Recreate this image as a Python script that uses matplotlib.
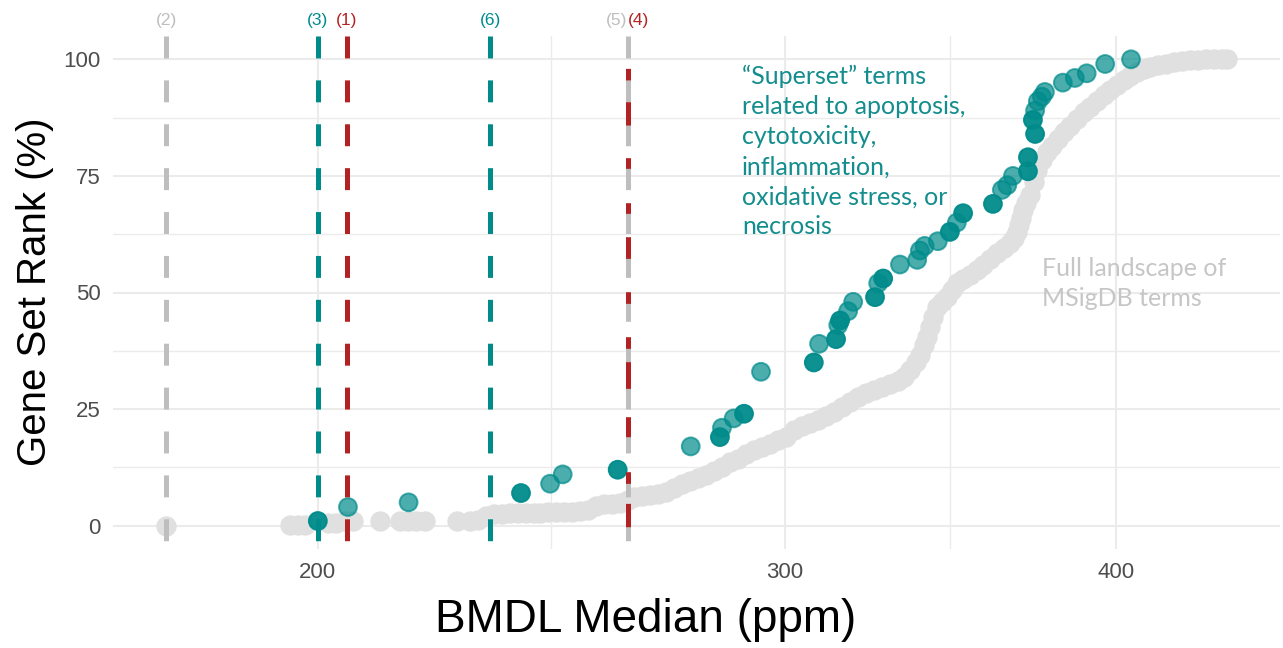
import matplotlib
matplotlib.use("Agg")
import matplotlib.pyplot as plt
from matplotlib.ticker import FixedLocator, NullFormatter, FixedFormatter
import matplotlib.transforms as mtransforms

plt.rcParams["lines.scale_dashes"] = False

# full MSigDB landscape: BMDL median (ppm) vs gene set rank (%)
landscape_bmdl = [175.3, 195.2, 196.6, 197.8, 201.7, 203.2, 204.8, 206.2, 211.1, 214.8,
                  216.3, 217.8, 219.5, 225.7, 228.2, 229.8, 231.4, 233.0, 234.7, 236.3,
                  238.0, 239.6, 241.3, 242.5, 244.2, 245.9, 247.7, 249.4, 251.1, 252.9,
                  254.6, 256.4, 258.2, 260.0, 261.8, 263.2, 265.0, 266.9, 268.7, 270.6,
                  272.5, 274.4, 276.3, 278.2, 280.2, 282.1, 284.1, 286.1, 288.1, 290.1,
                  292.1, 294.1, 296.2, 298.2, 300.3, 302.4, 304.5, 306.6, 308.8, 310.9,
                  313.1, 315.3, 317.5, 319.7, 321.9, 324.2, 326.4, 328.7, 331.0, 332.7,
                  334.5, 336.2, 337.4, 338.6, 339.4, 340.3, 341.2, 342.4, 343.9, 345.4,
                  346.9, 348.4, 350.2, 352.4, 354.5, 356.4, 358.5, 360.7, 362.9, 364.8,
                  366.1, 367.0, 367.7, 368.3, 369.0, 369.9, 371.2, 372.5, 373.5, 375.1,
                  376.7, 378.4, 380.4, 382.3, 384.3, 386.7, 389.0, 391.1, 393.5, 395.9,
                  397.9, 400.4, 402.8, 404.9, 407.4, 409.9, 412.0, 414.9, 417.8, 420.7,
                  423.6, 426.6, 429.5, 432.5, 435.5, 438.6, 440.5]
landscape_rank = [0.0, 0.2, 0.2, 0.2, 0.6, 0.6, 0.9, 0.9, 0.9, 0.9,
                  0.9, 0.9, 0.9, 0.9, 1.1, 1.3, 2.1, 2.6, 2.6, 2.8,
                  2.8, 2.8, 2.8, 2.8, 3.0, 3.0, 3.0, 3.0, 3.2, 3.4,
                  4.3, 4.7, 4.7, 4.9, 5.6, 6.2, 6.4, 6.6, 6.9, 7.3,
                  8.1, 9.0, 9.6, 10.3, 10.9, 11.8, 12.6, 13.7, 14.4, 15.4,
                  16.3, 16.9, 17.6, 18.4, 19.1, 20.6, 21.4, 22.1, 22.7, 23.6,
                  24.4, 25.5, 26.6, 27.6, 28.5, 29.1, 29.8, 30.4, 31.1, 31.9,
                  33.4, 35.1, 36.6, 38.8, 40.5, 42.6, 44.8, 46.9, 48.0, 49.0,
                  50.5, 52.0, 52.9, 53.8, 54.8, 55.9, 57.2, 58.5, 59.5, 60.6,
                  61.7, 63.0, 64.5, 66.0, 67.7, 69.2, 70.9, 73.7, 76.2, 78.4,
                  80.1, 81.4, 82.9, 84.4, 85.7, 87.2, 88.7, 89.7, 91.0, 92.3,
                  93.4, 94.4, 95.5, 96.4, 97.2, 97.9, 98.3, 98.7, 99.1, 99.4,
                  99.6, 99.8, 99.8, 100.0, 100.0, 100.0, 100.0]

# superset terms (apoptosis, cytotoxicity, inflammation, oxidative stress, necrosis)
superset_bmdl = [200.0, 205.3, 216.4, 238.6, 244.7, 247.4, 259.5, 276.5, 283.6, 284.1,
                 287.0, 289.6, 293.9, 307.7, 309.1, 313.7, 314.3, 314.8, 317.0, 318.4,
                 324.5, 325.4, 326.8, 331.6, 336.6, 337.4, 338.8, 342.7, 346.3, 348.4,
                 350.3, 359.5, 362.3, 364.0, 365.8, 370.6, 370.6, 372.9, 372.2, 372.9,
                 373.8, 375.1, 376.1, 382.0, 386.0, 390.0, 396.3, 405.3]
superset_rank = [1, 4, 5, 7, 9, 11, 12, 17, 19, 21,
                 23, 24, 33, 35, 39, 40, 43, 44, 46, 48,
                 49, 52, 53, 56, 57, 59, 60, 61, 63, 65,
                 67, 69, 72, 73, 75, 76, 79, 84, 87, 89,
                 91, 92, 93, 95, 96, 97, 99, 100]
superset_alpha = [0.95, 0.7, 0.7, 0.95, 0.7, 0.7, 0.95, 0.7, 0.95, 0.7,
                  0.7, 0.95, 0.7, 0.95, 0.7, 0.95, 0.7, 0.95, 0.7, 0.7,
                  0.95, 0.7, 0.95, 0.7, 0.7, 0.7, 0.7, 0.7, 0.95, 0.7,
                  0.95, 0.95, 0.7, 0.7, 0.7, 0.95, 0.95, 0.95, 0.95, 0.7,
                  0.7, 0.7, 0.7, 0.7, 0.7, 0.7, 0.7, 0.7]

# reference BMDL values drawn as dashed lines
ref_labels = ["(1)", "(2)", "(3)", "(4)", "(5)", "(6)"]
ref_bmdl = [205.1, 175.3, 200.0, 261.8, 261.8, 232.3]

TEAL = "#008B8B"
RED = "#B22222"
GREY = "#BEBEBE"
ref_colors = [RED, GREY, TEAL, RED, GREY, TEAL]
label_dx = [0, 0, 0, 8, -8, 0]

W, H = 1283, 648
fig = plt.figure(figsize=(W / 100, H / 100), dpi=100)
ax = fig.add_axes([113 / W, 99 / H, 1167 / W, 513 / H])

ax.set_xscale("log")
ax.set_xlim(167.4, 461.3)
ax.set_ylim(-5, 105)

ax.xaxis.set_major_locator(FixedLocator([200, 300, 400]))
ax.xaxis.set_major_formatter(FixedFormatter(["200", "300", "400"]))
ax.xaxis.set_minor_locator(FixedLocator([244.95, 346.41]))
ax.xaxis.set_minor_formatter(NullFormatter())
ax.yaxis.set_major_locator(FixedLocator([0, 25, 50, 75, 100]))
ax.yaxis.set_minor_locator(FixedLocator([12.5, 37.5, 62.5, 87.5]))

ax.grid(which="major", color="#EBEBEB", lw=1.5, zorder=0)
ax.grid(which="minor", color="#EBEBEB", lw=1.0, zorder=0)
ax.set_axisbelow(True)
for sp in ax.spines.values():
    sp.set_visible(False)
ax.tick_params(which="both", length=0, labelsize=16, labelcolor="#4D4D4D", pad=9)
for lab in ax.get_xticklabels() + ax.get_yticklabels():
    lab.set_family("Liberation Sans")

# landscape band
ax.scatter(landscape_bmdl, landscape_rank, s=215, color="#E0E0E0", linewidths=0, zorder=2)

# superset terms
ax.scatter(superset_bmdl, superset_rank, s=165, color=TEAL, edgecolors=TEAL,
           linewidths=1.4, alpha=superset_alpha, zorder=3)

# dashed reference lines, drawn top to bottom
dash = (0, (15.8, 15.8))
red_seq = [8.4, 15.6, 16.8, 23.5, 7.7, 24.7, 7.7, 16.8, 15.6, 24.0, 8.4, 24.0,
           8.4, 9.6, 19.2, 20.4, 14.4, 25.2, 8.4, 14.4, 16.8, 123.3]
red_dash = (sum(red_seq) - 23.3, red_seq)
order = [1, 2, 5, 0, 4, 3]
for i in order:
    style = red_dash if ref_labels[i] == "(4)" else dash
    ax.plot([ref_bmdl[i], ref_bmdl[i]], [105, -5], color=ref_colors[i], lw=3.6,
            linestyle=style, zorder=4, solid_capstyle="butt")

trans = mtransforms.blended_transform_factory(ax.transData, ax.transAxes)
for lab, xv, col, dx in zip(ref_labels, ref_bmdl, ref_colors, label_dx):
    ax.annotate(lab, xy=(xv, 1), xycoords=trans, xytext=(dx, 11),
                textcoords="offset points", ha="center", va="center",
                fontsize=12.5, color=col, family="Liberation Sans",
                annotation_clip=False)

fig.text(646 / W, 1 - 620 / H, "BMDL Median (ppm)", ha="center", va="center",
         fontsize=33, family="Liberation Sans")
fig.text(35 / W, 1 - 292 / H, "Gene Set Rank (%)", ha="center", va="center",
         rotation=90, fontsize=29, family="Liberation Sans")

fig.text(742 / W, 1 - 65 / H,
         "\u201cSuperset\u201d terms\nrelated to apoptosis,\ncytotoxicity,\ninflammation,\noxidative stress, or\nnecrosis",
         ha="left", va="top", fontsize=18, color="#138D8D", family="Lato",
         linespacing=1.37)
fig.text(1042 / W, 1 - 257 / H, "Full landscape of\nMSigDB terms", ha="left", va="top",
         fontsize=18, color="#C6C6C6", family="Lato", linespacing=1.37)

fig.savefig("out.png", dpi=100)
